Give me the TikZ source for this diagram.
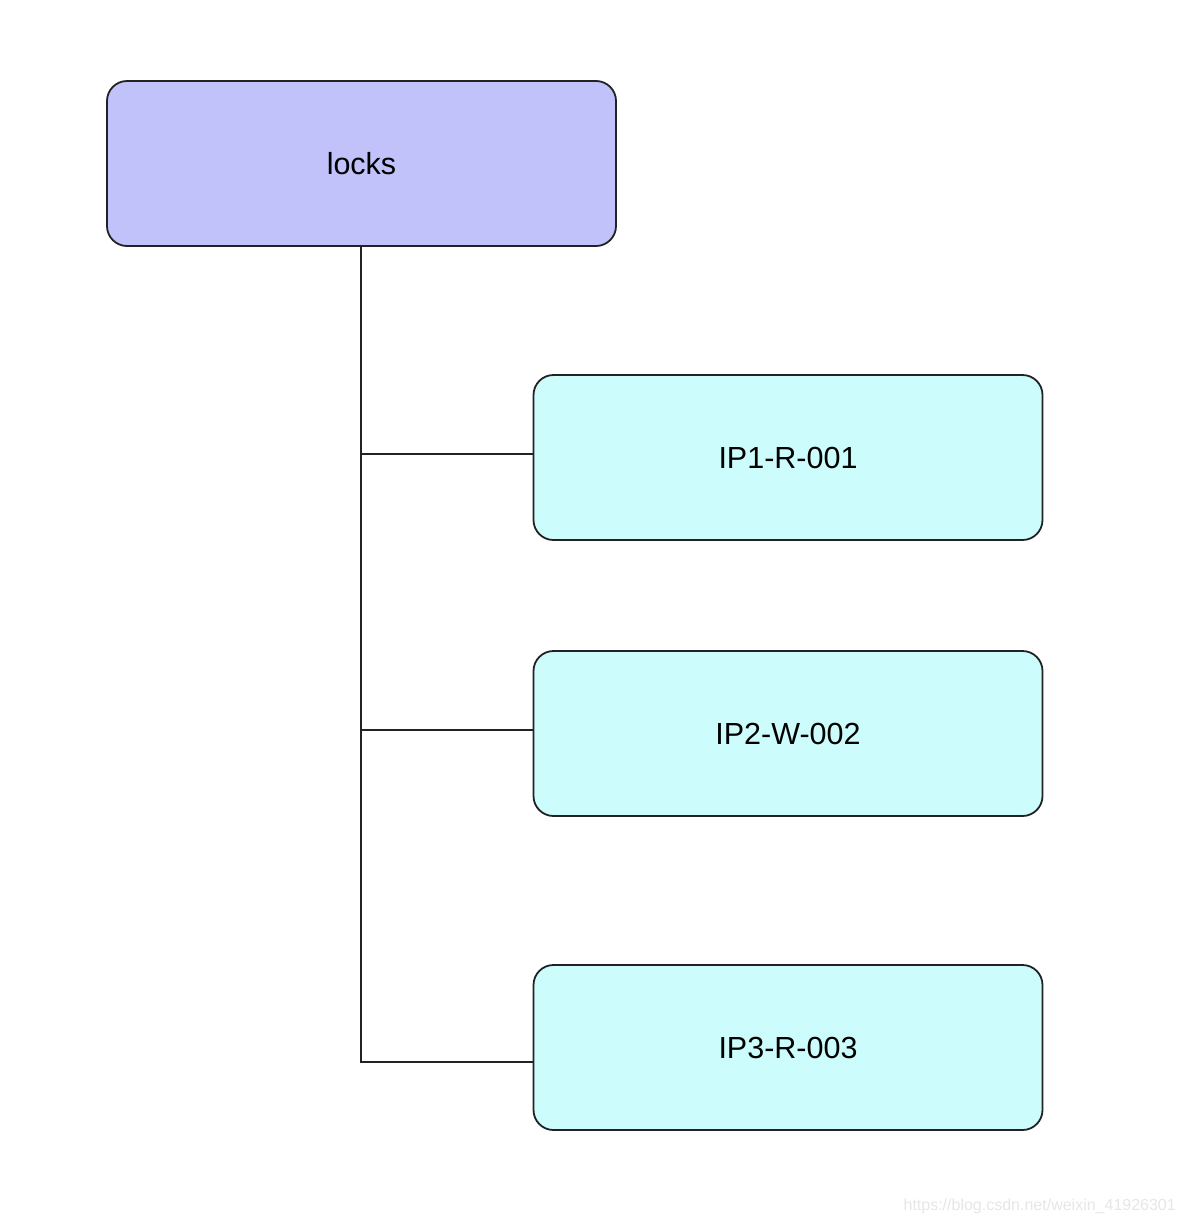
\documentclass[tikz,border=0pt]{standalone}
\usepackage{fontspec}
\setmainfont{Liberation Sans}
\definecolor{lockfill}{HTML}{C0C2F9}
\definecolor{ipfill}{HTML}{CCFCFC}
\definecolor{edge}{HTML}{222222}
\definecolor{wm}{HTML}{E6E6E6}
\begin{document}
\begin{tikzpicture}[x=1pt,y=-1pt,
  box/.style={draw=edge,line width=1.8pt,rounded corners=20pt,minimum width=509pt,minimum height=165pt,inner sep=0pt,font=\fontsize{30.5}{36}\selectfont},
  link/.style={draw=edge,line width=1.8pt}]
\useasboundingbox (0,0) rectangle (1182,1224);
\node[box,fill=lockfill] (locks) at (361.5,163.5) {locks};
\node[box,fill=ipfill] (ip1) at (788,457.5) {IP1-R-001};
\node[box,fill=ipfill] (ip2) at (788,733.5) {IP2-W-002};
\node[box,fill=ipfill] (ip3) at (788,1047.5) {IP3-R-003};
\coordinate (j1) at (361,454);
\coordinate (j2) at (361,730);
\coordinate (j3) at (361,1062);
\draw[link] (locks.south -| j1) -- (j3) -- (j3 -| ip3.west);
\draw[link] (j1) -- (j1 -| ip1.west);
\draw[link] (j2) -- (j2 -| ip2.west);
\node[anchor=east,text=wm,font=\fontsize{16}{19}\selectfont,inner sep=0pt] (wmark) at (1176,1206) {https://blog.csdn.net/weixin\_41926301};
\end{tikzpicture}
\end{document}
